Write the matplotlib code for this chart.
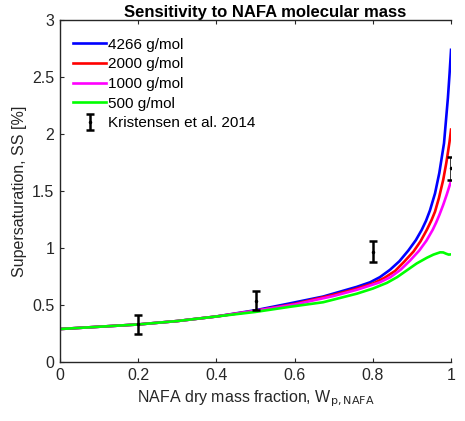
import matplotlib
matplotlib.use("Agg")
import matplotlib.pyplot as plt
import numpy as np

plt.rcParams['font.family'] = ['Liberation Sans', 'DejaVu Sans']

# model curves
x_blue = [0.0, 0.1, 0.2, 0.3, 0.4, 0.5, 0.588, 0.673, 0.759, 0.793, 0.818, 0.844, 0.868, 0.891, 0.91,
          0.925, 0.936, 0.946, 0.959, 0.97, 0.982, 0.992, 0.996, 1.0]
ss_blue = [0.29, 0.31, 0.33, 0.36, 0.40, 0.455, 0.515, 0.575, 0.66, 0.70, 0.745, 0.81, 0.885, 0.98, 1.07,
           1.16, 1.24, 1.33, 1.48, 1.66, 1.92, 2.32, 2.52, 2.74]

x_red = [0.0, 0.1, 0.2, 0.3, 0.4, 0.5, 0.6, 0.7, 0.75, 0.801, 0.83, 0.857, 0.88, 0.904, 0.922, 0.938,
         0.95, 0.959, 0.969, 0.98, 0.988, 0.996, 1.0]
ss_red = [0.29, 0.31, 0.33, 0.36, 0.40, 0.45, 0.51, 0.59, 0.635, 0.69, 0.74, 0.80, 0.88, 0.97, 1.06, 1.16,
          1.245, 1.32, 1.44, 1.60, 1.75, 1.93, 2.04]

x_mag = [0.0, 0.1, 0.2, 0.3, 0.4, 0.5, 0.6, 0.7, 0.76, 0.818, 0.845, 0.871, 0.895, 0.919, 0.937, 0.953,
         0.962, 0.97, 0.98, 0.989, 0.995, 1.0]
ss_mag = [0.29, 0.31, 0.33, 0.36, 0.40, 0.45, 0.505, 0.58, 0.635, 0.70, 0.745, 0.81, 0.89, 0.98, 1.065,
          1.16, 1.225, 1.29, 1.38, 1.47, 1.535, 1.59]

x_green = [0.0, 0.1, 0.2, 0.3, 0.4, 0.5, 0.588, 0.673, 0.759, 0.8, 0.836, 0.862, 0.887, 0.912, 0.938,
           0.955, 0.972, 0.98, 0.988, 0.994, 1.0]
ss_green = [0.29, 0.31, 0.33, 0.36, 0.40, 0.44, 0.485, 0.525, 0.60, 0.645, 0.695, 0.745, 0.805, 0.865,
            0.915, 0.943, 0.963, 0.962, 0.95, 0.943, 0.945]

# measurements, Kristensen et al. 2014
x_obs = [0.2, 0.5, 0.8, 1.0]
ss_obs = [0.33, 0.54, 0.97, 1.70]
err_obs = [0.085, 0.085, 0.09, 0.10]

fig = plt.figure(figsize=(4.65, 4.21), dpi=100)
ax = fig.add_axes([0.129, 0.140, 0.841, 0.812])

lw = 1.9
ax.plot(x_blue, ss_blue, color=(0, 0, 1), lw=lw, label='4266 g/mol')
ax.plot(x_red, ss_red, color=(1, 0, 0), lw=lw, label='2000 g/mol')
ax.plot(x_mag, ss_mag, color=(1, 0, 1), lw=lw, label='1000 g/mol')
ax.plot(x_green, ss_green, color=(0, 1, 0), lw=lw, label='500 g/mol')
ax.errorbar(x_obs, ss_obs, yerr=err_obs, fmt='.', color='k', ms=3,
            elinewidth=1.8, capsize=3, capthick=1.8,
            label='Kristensen et al. 2014')

ax.set_xlim(0, 1)
ax.set_ylim(0, 3)
ax.set_xticks([0, 0.2, 0.4, 0.6, 0.8, 1])
ax.set_xticklabels(['0', '0.2', '0.4', '0.6', '0.8', '1'])
ax.set_yticks([0, 0.5, 1, 1.5, 2, 2.5, 3])
ax.set_yticklabels(['0', '0.5', '1', '1.5', '2', '2.5', '3'])
ax.tick_params(direction='in', top=True, right=False, labelsize=11.5,
               length=3, color='0.15', labelcolor='0.15', pad=4)
for s in ['left', 'bottom', 'top']:
    ax.spines[s].set_color('0.15')
    ax.spines[s].set_linewidth(1.0)
ax.spines['right'].set_visible(False)

ax.set_xlabel(r'NAFA dry mass fraction, W$_{\mathrm{p,NAFA}}$', fontsize=11.5, color='0.15')
ax.set_ylabel('Supersaturation, SS [%]', fontsize=11.5, color='0.15')
ax.set_title('Sensitivity to NAFA molecular mass', fontsize=12, fontweight='bold', pad=2, x=0.524)

ax.legend(loc='upper left', bbox_to_anchor=(-0.012, 1.0), frameon=False, fontsize=11,
          handlelength=2.2, handletextpad=0.1, labelspacing=0.37, borderaxespad=0.75)

fig.savefig('out.png', dpi=100)
